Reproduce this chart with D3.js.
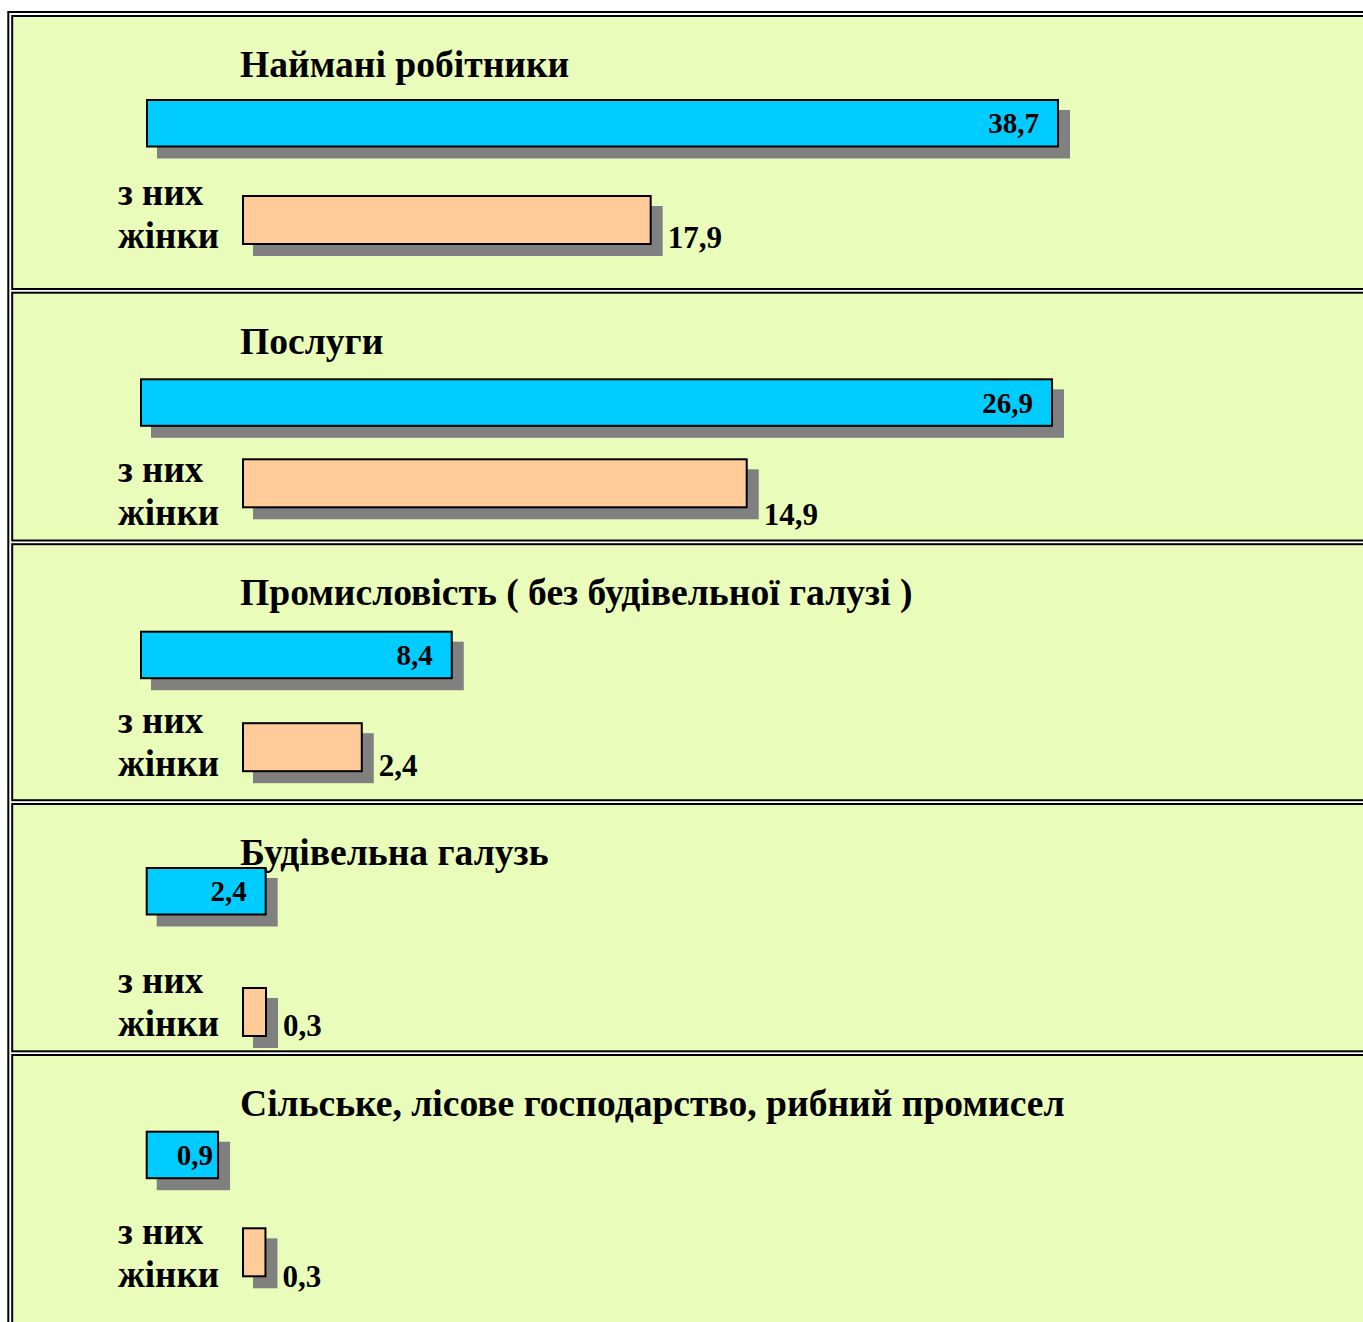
<!DOCTYPE html>
<html>
<head>
<meta charset="utf-8">
<script src="https://cdn.jsdelivr.net/npm/d3@7"></script>
<style>
  body { margin: 0; background: #ffffff; }
  text { font-family: "Liberation Serif", "Times New Roman", serif; font-weight: bold; fill: #000; }
</style>
</head>
<body>
<div id="chart"></div>
<script>
// chart data
const categories = [
    "Наймані робітники",
    "Послуги",
    "Промисловість ( без будівельної галузі )",
    "Будівельна галузь",
    "Сільське, лісове господарство, рибний промисел"
];
const totalValues = [38.7, 26.9, 8.4, 2.4, 0.9];
const womenValues = [17.9, 14.9, 2.4, 0.3, 0.3];
// each panel was drawn with its own axis range
const scaleMin = [0.97, 0, -1.375, -0.247, 0];
const scaleMax = [38.7, 26.9, 27.16, 19.73, 11.2];
const womenLabel = ["з них", "жінки"];

// layout
const width = 1363, height = 1322;
const cellTops = [15, 291.7, 543.2, 803, 1054];
const cellBottoms = [290, 541.5, 801.2, 1052.3, 1345];
const blueOffset = [84, 86.6, 87.5, 64, 76.7];
const orangeOffset = [180, 166.6, 179, 184, 173.3];
const blueX0 = [146, 140, 140, 145.7, 145.7];
const orangeX0 = 242;
const barLen = 913;
const blueH = 48.5, orangeH = 50, shadow = 11;

const fmt = v => d3.format(".1f")(v).replace(".", ",");

const svg = d3.select("#chart").append("svg")
    .attr("width", width)
    .attr("height", height);

// outer frame
svg.append("rect")
    .attr("x", 8.3).attr("y", 12)
    .attr("width", width + 20).attr("height", height + 20)
    .attr("fill", "#ffffff")
    .attr("stroke", "#000").attr("stroke-width", 2);

categories.forEach((cat, i) => {
    const top = cellTops[i];
    const g = svg.append("g");

    // cell
    g.append("rect")
        .attr("x", 12.2).attr("y", top + 1)
        .attr("width", width + 20).attr("height", cellBottoms[i] - top - 2)
        .attr("fill", "#EAFCBA")
        .attr("stroke", "#000").attr("stroke-width", 2);

    const x = d3.scaleLinear().domain([scaleMin[i], scaleMax[i]]).range([0, barLen]);

    const bars = [
        { value: totalValues[i], x0: blueX0[i], y0: top + blueOffset[i], h: blueH, fill: "#00CCFF", inside: true },
        { value: womenValues[i], x0: orangeX0, y0: top + orangeOffset[i], h: orangeH, fill: "#FFCC99", inside: false }
    ];

    // shadows
    g.selectAll(".shadow")
        .data(bars)
        .enter()
        .append("rect")
        .attr("class", "shadow")
        .attr("x", d => d.x0 + shadow)
        .attr("y", d => d.y0 + shadow)
        .attr("width", d => x(d.value))
        .attr("height", d => d.h)
        .attr("fill", "#808080");

    // bars
    g.selectAll(".bar")
        .data(bars)
        .enter()
        .append("rect")
        .attr("class", "bar")
        .attr("x", d => d.x0 + 1)
        .attr("y", d => d.y0 + 1)
        .attr("width", d => x(d.value) - 2)
        .attr("height", d => d.h - 2)
        .attr("fill", d => d.fill)
        .attr("stroke", "#000")
        .attr("stroke-width", 2);

    // values
    g.selectAll(".val")
        .data(bars)
        .enter()
        .append("text")
        .attr("class", "val")
        .attr("x", d => d.inside
            ? d.x0 + x(d.value) - (x(d.value) < 100 ? 6 : 20)
            : d.x0 + x(d.value) + 16)
        .attr("y", d => d.inside ? d.y0 + d.h / 2 + 10 : top + 233)
        .attr("text-anchor", d => d.inside ? "end" : "start")
        .style("font-size", d => d.inside ? "29px" : "31px")
        .text(d => fmt(d.value));

    // title
    g.append("text")
        .attr("x", 240).attr("y", top + 62)
        .style("font-size", "37.6px")
        .text(cat);

    // "з них жінки"
    g.selectAll(".lbl")
        .data(womenLabel)
        .enter()
        .append("text")
        .attr("class", "lbl")
        .attr("x", 118)
        .attr("y", (d, j) => top + 190 + j * 43)
        .style("font-size", "37px")
        .text(d => d);
});
</script>
</body>
</html>
